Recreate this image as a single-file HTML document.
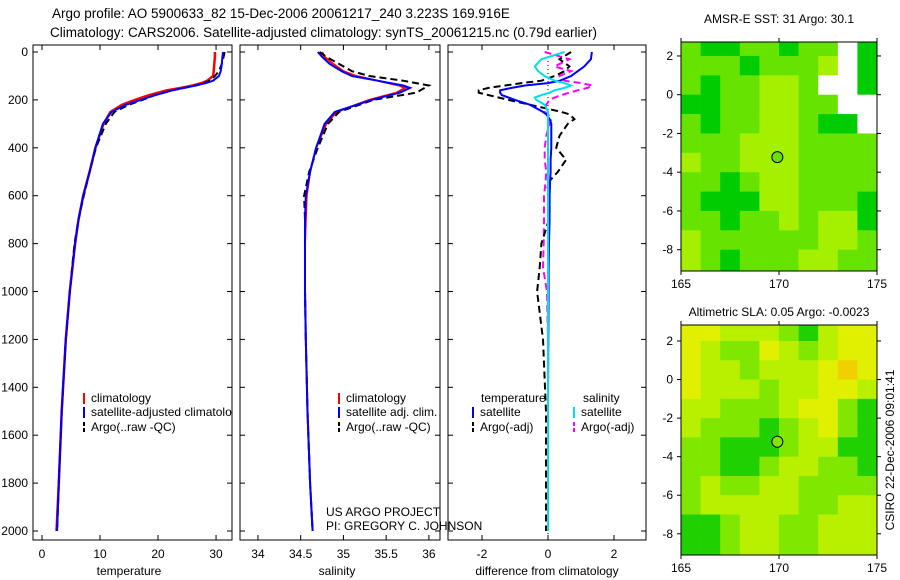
<!DOCTYPE html>
<html><head><meta charset="utf-8">
<style>
body{margin:0;background:#fff;}
svg{display:block;font-family:"Liberation Sans",sans-serif;}
</style></head>
<body>
<svg id="c" width="900" height="580" viewBox="0 0 900 580">
<text x="52" y="18" font-size="13.5">Argo profile: AO 5900633_82 15-Dec-2006 20061217_240 3.223S 169.916E</text>
<text x="50" y="37" font-size="13.5">Climatology: CARS2006. Satellite-adjusted climatology: synTS_20061215.nc (0.79d earlier)</text>
<text x="129" y="575" font-size="12" text-anchor="middle">temperature</text>
<text x="337" y="575" font-size="12" text-anchor="middle">salinity</text>
<text x="547" y="575" font-size="12" text-anchor="middle">difference from climatology</text>
<text x="779" y="23" font-size="12" text-anchor="middle">AMSR-E SST: 31 Argo: 30.1</text>
<text x="779" y="316" font-size="12" text-anchor="middle">Altimetric SLA: 0.05 Argo: -0.0023</text>
<text transform="translate(894,450) rotate(-90)" font-size="12" text-anchor="middle">CSIRO 22-Dec-2006 09:01:41</text>
<text x="326" y="516" font-size="12">US ARGO PROJECT</text>
<text x="326" y="530" font-size="12">PI: GREGORY C. JOHNSON</text>
</svg>
<script>
// ---- data ----
const depths=[0,20,50,80,100,120,130,140,150,160,180,200,220,250,300,400,500,600,700,800,1000,1200,1500,1800,2000];
const tempClim=[29.8,29.8,29.7,29.6,29.5,28.5,27.5,26,24,21.5,18.5,16,13.8,11.8,10.6,9.2,8.2,7.1,6.3,5.7,4.8,4.1,3.4,2.9,2.5];
const tempSat=[31.2,31.1,31,30.8,30.5,29.5,28.2,26.5,24.5,22.5,19.5,17,14.5,12,10.5,9.2,8.2,7.1,6.3,5.7,4.8,4.1,3.4,2.9,2.6];
const tempArgo=[31.5,31.3,31,30.5,29.8,29,28,26.5,24.5,22.5,19.5,17.3,15,12.5,11,9.3,8.2,7.2,6.3,5.6,4.8,4.1,3.4,2.9,2.6];
const salDepths=[0,20,50,80,100,120,140,150,170,200,250,300,400,500,600,700,800,1000,1200,1500,1800,2000];
const salClim=[34.75,34.78,34.88,35.0,35.15,35.4,35.65,35.72,35.62,35.3,34.92,34.8,34.68,34.61,34.57,34.56,34.55,34.55,34.56,34.58,34.61,34.64];
const salSat=[34.7,34.75,34.84,34.98,35.1,35.4,35.7,35.78,35.66,35.33,34.9,34.78,34.68,34.61,34.56,34.55,34.55,34.55,34.56,34.58,34.61,34.64];
const salArgo=[34.72,34.8,34.95,35.1,35.3,35.7,36.0,35.95,35.85,35.35,34.95,34.82,34.7,34.6,34.54,34.55,34.55,34.55,34.56,34.58,34.61,34.64];
const diffDepths=[0,30,60,80,100,120,130,140,150,160,170,180,190,200,220,250,260,280,300,350,400,450,500,550,600,700,800,900,1000,1200,1500,2000];
const dTempSat=[1.33,1.3,1.1,0.9,0.7,0.36,0,-0.7,-1.1,-1.45,-1.45,-1.4,-1.2,-1.0,-0.55,-0.15,-0.05,0.05,0.1,0.1,0.1,0.08,0.08,0.06,0.05,0.05,0.03,0.02,0.02,0.01,0.0,0.0];
const dTempArgo=[0.7,0.35,0.65,0.5,0.2,-0.2,-0.8,-1.3,-1.8,-2.1,-2.1,-1.8,-1.5,-1.2,-0.55,0.4,0.65,0.8,0.6,0.35,0.25,0.55,0.3,-0.03,0.03,0.03,-0.2,-0.25,-0.33,-0.15,-0.06,-0.06];
const dSalSat=[0.5,-0.2,-0.4,-0.3,-0.1,0.2,0.5,0.7,0.5,0.2,0.05,-0.2,-0.4,-0.35,-0.1,0.0,0.0,0.0,0.0,0.0,0.0,0.0,0.0,0.0,0.0,0.0,0.0,0.0,0.0,0.0,0.0,0.0];
const dSalArgo=[-0.1,0.65,0.2,0.7,0.35,0.5,1.0,1.35,1.2,0.9,0.65,0.4,0.2,0.05,-0.05,-0.1,0.0,0.1,0.05,-0.05,-0.1,-0.1,-0.05,-0.08,-0.12,-0.12,-0.13,-0.15,-0.03,0.0,0.0,0.0];
const depthTicks=[0,200,400,600,800,1000,1200,1400,1600,1800,2000];
const tempTicks=[0,10,20,30];
const salTicks=[34,34.5,35,35.5,36];
const diffTicks=[-2,0,2];
const lonTicks=[165,170,175];
const latTicks=[2,0,-2,-4,-6,-8];
// map grids: rows from north (top) to south, 1 deg cells, cols 165..175
const sstGrid=[
[1,0,0,1,1,0,1,1,9,0],[1,1,1,0,1,1,1,2,9,0],[1,0,1,1,2,2,1,9,9,0],[0,0,1,1,2,2,1,1,9,9],
[1,0,1,1,2,2,1,0,0,9],[1,1,1,2,2,2,1,1,1,1],[2,1,1,2,2,2,1,1,1,1],[1,1,0,1,2,2,1,1,1,1],
[1,0,0,0,2,2,1,1,1,0],[1,1,0,1,1,2,1,2,2,0],[2,1,1,1,1,1,1,2,2,1],[2,1,0,1,1,1,2,2,1,1]];
const slaGrid=[
[3,3,2,2,2,1,0,2,3,3],[3,2,1,1,3,2,1,2,3,3],[3,2,2,1,2,2,2,3,4,3],[3,2,2,2,1,2,2,3,3,2],
[2,2,1,1,1,2,3,3,1,0],[2,1,1,1,0,1,2,3,1,0],[1,1,0,0,0,1,2,2,0,0],[1,1,0,0,1,2,2,1,1,0],
[1,2,1,1,2,2,1,1,1,1],[1,2,2,2,2,2,1,1,2,2],[0,0,1,2,2,1,1,2,2,2],[0,0,1,2,2,1,1,2,2,2]];
const argoLon=169.916, argoLat=-3.223;

const NS='http://www.w3.org/2000/svg';
const svg=document.getElementById('c');
function mk(tag,attrs,parent){const e=document.createElementNS(NS,tag);for(const k in attrs)e.setAttribute(k,attrs[k]);(parent||svg).appendChild(e);return e;}
const Y0=52,Y1=531,FT=45,FB=540;
const yD=d=>Y0+(d/2000)*(Y1-Y0);
function panel(name,x0,x1,xmin,xmax,ticks,labelY){
  const xf=v=>x0+(v-xmin)/(xmax-xmin)*(x1-x0);
  const g=mk('g',{});
  
  
  const clipId='clip-'+name;
  const cp=mk('clipPath',{id:clipId},g);mk('rect',{x:x0,y:FT,width:x1-x0,height:FB-FT},cp);
  const box=mk('rect',{x:x0,y:FT,width:x1-x0,height:FB-FT,fill:'none',stroke:'#000','stroke-width':1},g);
  
  
  ticks.forEach(t=>{const x=xf(t);
    mk('line',{x1:x,x2:x,y1:FB,y2:FB-5,stroke:'#000'},g);mk('line',{x1:x,x2:x,y1:FT,y2:FT+5,stroke:'#000'},g);
    const tx=mk('text',{x:x,y:558,'font-size':12,'text-anchor':'middle'},g);tx.textContent=String(t);
    
    });
  depthTicks.forEach(d=>{const y=yD(d);
    mk('line',{x1:x0,x2:x0+5,y1:y,y2:y,stroke:'#000'},g);mk('line',{x1:x1,x2:x1-5,y1:y,y2:y,stroke:'#000'},g);
    if(labelY){const tx=mk('text',{x:x0-5,y:y+4,'font-size':12,'text-anchor':'end'},g);tx.textContent=String(d);
      
      }});
  return {g,xf,clipId};
}
function series(p,name,ds,vals,color,dash,w){
  const pts=ds.map((d,i)=>p.xf(vals[i]).toFixed(1)+','+yD(d).toFixed(1)).join(' ');
  const l=mk('polyline',{points:pts,fill:'none',stroke:color,'stroke-width':w||2,'clip-path':'url(#'+p.clipId+')'},p.g);
  if(dash)l.setAttribute('stroke-dasharray',dash);
  
  
}
function legend(p,x,y,color,label,dash){
  const l=mk('line',{x1:x,x2:x,y1:y-9,y2:y+2,stroke:color,'stroke-width':2},p.g);
  if(dash)l.setAttribute('stroke-dasharray','4,2');
  const t=mk('text',{x:x+7,y:y,'font-size':12,'clip-path':'url(#'+p.clipId+')'},p.g);t.textContent=label;
  
  
}
// panel 1
const p1=panel('temperature-panel',33,232,-1.55,32.75,tempTicks,true);
series(p1,'temp-climatology-line',depths,tempClim,'#ff0000',null,2.5);
series(p1,'temp-argo-line',depths,tempArgo,'#000',"7,4",2);
series(p1,'temp-satellite-line',depths,tempSat,'#0000ff',null,2);
legend(p1,84,402,'#ff0000','climatology');legend(p1,84,416,'#0000ff','satellite-adjusted climatology');legend(p1,84,431,'#000','Argo(..raw -QC)',1);
// panel 2
const p2=panel('salinity-panel',240,440,33.79,36.13,salTicks,false);
series(p2,'sal-climatology-line',salDepths,salClim,'#ff0000',null,2);
series(p2,'sal-argo-line',salDepths,salArgo,'#000',"7,4",2);
series(p2,'sal-satellite-line',salDepths,salSat,'#0000ff',null,2);
legend(p2,339,402,'#ff0000','climatology');legend(p2,339,416,'#0000ff','satellite adj. clim.');legend(p2,339,431,'#000','Argo(..raw -QC)',1);
// panel 3
const p3=panel('difference-panel',448,646,-3.03,2.97,diffTicks,false);
mk('line',{x1:p3.xf(0),x2:p3.xf(0),y1:FT,y2:FB,stroke:'#000','stroke-dasharray':'1,3'},p3.g);
series(p3,'dsal-argo-line',diffDepths,dSalArgo,'#ff00ff',"7,4",2);
series(p3,'dtemp-argo-line',diffDepths,dTempArgo,'#000',"7,4",2);
series(p3,'dtemp-satellite-line',diffDepths,dTempSat,'#0000ff',null,2);
series(p3,'dsal-satellite-line',diffDepths,dSalSat,'#00e0e0',null,2);
{const t=mk('text',{x:481,y:402,'font-size':12},p3.g);t.textContent='temperature';
 const s=mk('text',{x:583,y:402,'font-size':12},p3.g);s.textContent='salinity';}
legend(p3,473,416,'#0000ff','satellite');legend(p3,473,431,'#000','Argo(-adj)',1);
legend(p3,574,416,'#00e0e0','satellite');legend(p3,574,431,'#ff00ff','Argo(-adj)',1);
// maps
const sstCols=['#00cc00','#66e400','#a4f000','#d0f000'];
const slaCols=['#20d000','#80e800','#b8f000','#e0f000','#f0d000'];
function map(name,top,bot,latTop,grid,cols){
  const x0=681,x1=877,lonMin=165,lonMax=175,latBot=-9.1;
  const xf=v=>x0+(v-lonMin)/(lonMax-lonMin)*(x1-x0);
  const yf=v=>top+(latTop-v)/(latTop-latBot)*(bot-top);
  const g=mk('g',{});
  
  
  grid.forEach((row,r)=>row.forEach((v,c)=>{
    const la1=r===0?latTop:Math.floor(latTop)-r+1, la2=r===grid.length-1?latBot:Math.floor(latTop)-r;
    const x=xf(lonMin+c),y=yf(la1);
    const cell=mk('rect',{x:x,y:y,width:xf(lonMin+c+1)-x+0.3,height:yf(la2)-y+0.3,fill:v===9?'#fff':cols[v]},g);
    
    
  }));
  mk('rect',{x:x0,y:top,width:x1-x0,height:bot-top,fill:'none',stroke:'#000'},g);
  lonTicks.forEach(t=>{const x=xf(t);mk('line',{x1:x,x2:x,y1:bot,y2:bot+4,stroke:'#000'},g);mk('line',{x1:x,x2:x,y1:top,y2:top-4,stroke:'#000'},g);
    const tx=mk('text',{x:x,y:bot+17,'font-size':12,'text-anchor':'middle'},g);tx.textContent=String(t);
    
    });
  latTicks.forEach(t=>{const y=yf(t);mk('line',{x1:x0,x2:x0-4,y1:y,y2:y,stroke:'#000'},g);mk('line',{x1:x1,x2:x1+4,y1:y,y2:y,stroke:'#000'},g);
    const tx=mk('text',{x:x0-8,y:y+4,'font-size':12,'text-anchor':'end'},g);tx.textContent=String(t);
    
    });
  const m=mk('circle',{cx:xf(argoLon),cy:yf(argoLat),r:5.5,fill:cols[1],stroke:'#000'},g);
  
  
}
map('sst-map',42,271,2.72,sstGrid,sstCols);
map('sla-map',325,555,2.83,slaGrid,slaCols);
</script>
</body></html>
